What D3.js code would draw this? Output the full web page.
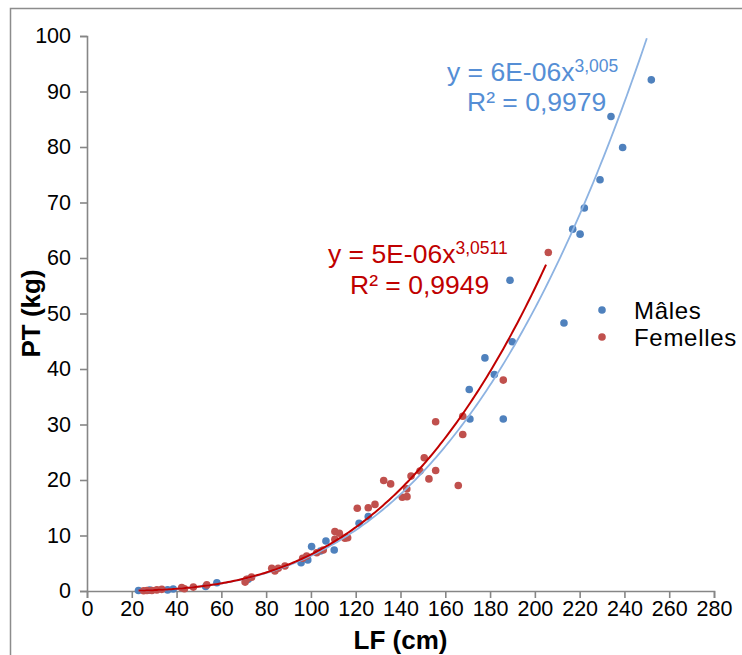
<!DOCTYPE html>
<html><head><meta charset="utf-8">
<script src="https://cdn.jsdelivr.net/npm/d3@7/dist/d3.min.js"></script>
<style>
html,body{margin:0;padding:0;background:#fff;}
svg{display:block;font-family:"Liberation Sans",Arial,sans-serif;}
</style></head>
<body>
<svg id="chart" width="742" height="655"></svg>
<script>
// ---- data (LF cm, PT kg) ----
const malesLF = [23,28,36,38.5,53,58,72,95.6,98.6,100.3,104.3,106.7,110.4,121.5,125.6,170.7,171,177.7,181.9,185.9,188.9,189.9,213,216.9,220.2,222.1,229.1,234,239.2,252];
const malesPT = [0.1,0.15,0.2,0.35,0.8,1.5,2.1,5.1,5.6,8.0,7.2,9.0,7.4,12.2,13.4,36.3,31.0,42.0,39.0,31.0,56.0,44.9,48.3,65.2,64.3,69.0,74.1,85.5,79.9,92.1];
const femLF = [25.3,26.8,29,31.2,33.4,42.3,43.5,47.5,53.5,70.6,71.3,73.5,82.5,83.9,85.4,88.4,96.3,98.1,102.6,105.5,110.7,110.7,112.7,115.2,116.4,120.7,125.6,128.6,132.5,135.6,140.8,142.9,142.8,144.7,148.7,150.6,152.7,155.7,155.7,165.8,167.8,167.8,185.9,206];
const femPT = [0.05,0.1,0.1,0.2,0.3,0.6,0.4,0.7,1.1,1.6,2.1,2.5,4.1,3.6,4.1,4.5,5.9,6.3,6.9,7.4,9.3,10.7,10.4,9.5,9.6,14.9,15.0,15.6,19.9,19.3,16.9,17.0,18.4,20.7,21.6,24.0,20.2,21.7,30.5,19.0,28.2,31.5,38.0,61.0];
const seriesNames = ["Mâles","Femelles"];
// power trendlines y = a * x^b  (fitted), range [xmin, xmax]
const trendA = [6.2e-6, 5.2e-6];
const trendB = [3.005, 3.0511];
const trendRange = [[23,250],[23,205]];
const eqMain = ["y = 6E-06x","y = 5E-06x"];
const eqExp = ["3,005","3,0511"];
const eqR2 = ["R² = 0,9979","R² = 0,9949"];
const xTicks = d3.range(0, 281, 20);
const yTicks = d3.range(0, 101, 10);

const colM = "#4f81bd", colF = "#c0504d";
const lineM = "#8db3e2", lineF = "#c00000";
const txtM = "#558ed5", txtF = "#c00000";

const svg = d3.select("#chart");
// outer chart border
svg.append("rect").attr("x",10.5).attr("y",8.5).attr("width",800).attr("height",800)
  .attr("fill","none").attr("stroke","#8c8c8c").attr("stroke-width",1.5);

const x = d3.scaleLinear().domain([0,280]).range([87,714]);
const y = d3.scaleLinear().domain([0,100]).range([591,36]);

// axes
const xAxis = svg.append("g").attr("transform","translate(0,591)")
  .call(d3.axisBottom(x).tickValues(xTicks).tickSize(7).tickPadding(3));
const yAxis = svg.append("g").attr("transform","translate(87,0)")
  .call(d3.axisLeft(y).tickValues(yTicks).tickSize(7).tickPadding(9));
[xAxis,yAxis].forEach(g=>{
  g.select(".domain").attr("stroke","#868686").attr("stroke-width",1.6);
  g.selectAll(".tick line").attr("stroke","#868686").attr("stroke-width",1.6);
  g.selectAll(".tick text").attr("fill","#000").style("font-size","21.5px")
    .style("font-family","'Liberation Sans',Arial,sans-serif");
});
xAxis.selectAll(".tick text").attr("dy","0.71em");

// axis titles
svg.append("text").attr("x",400.5).attr("y",649).attr("text-anchor","middle")
  .style("font-size","26px").style("font-weight","bold").text("LF (cm)");
svg.append("text").attr("transform","translate(40,313.5) rotate(-90)").attr("text-anchor","middle")
  .style("font-size","26px").style("font-weight","bold").text("PT (kg)");

// points
const males = malesLF.map((v,i)=>({x:v,y:malesPT[i]}));
const fems = femLF.map((v,i)=>({x:v,y:femPT[i]}));
svg.append("g").selectAll("circle").data(males).join("circle")
  .attr("cx",d=>x(d.x)).attr("cy",d=>y(d.y)).attr("r",3.8).attr("fill",colM);
svg.append("g").selectAll("circle").data(fems).join("circle")
  .attr("cx",d=>x(d.x)).attr("cy",d=>y(d.y)).attr("r",3.8).attr("fill",colF);

// trendlines
const line = d3.line().x(d=>x(d[0])).y(d=>y(d[1]));
[0,1].forEach(k=>{
  const [x0,x1] = trendRange[k];
  const pts = d3.range(0,201).map(i=>{const xv = x0+(x1-x0)*i/200; return [xv, trendA[k]*Math.pow(xv,trendB[k])];});
  svg.append("path").attr("d",line(pts)).attr("fill","none")
    .attr("stroke", k===0?lineM:lineF).attr("stroke-width", k===0?1.8:2);
});

// equations
const eqPos = [[447,81,467,111],[328,263,350,294]];
[0,1].forEach(k=>{
  const c = k===0?txtM:txtF;
  const t = svg.append("text").attr("x",eqPos[k][0]).attr("y",eqPos[k][1]).attr("fill",c).style("font-size","26.5px");
  t.append("tspan").text(eqMain[k]);
  t.append("tspan").attr("dy",-9).style("font-size","17.5px").text(eqExp[k]);
  svg.append("text").attr("x",eqPos[k][2]).attr("y",eqPos[k][3]).attr("fill",c).style("font-size","26.5px").text(eqR2[k]);
});

// legend
const leg = svg.append("g");
seriesNames.forEach((n,i)=>{
  leg.append("circle").attr("cx",602).attr("cy",310+i*27).attr("r",3.8).attr("fill",i===0?colM:colF);
  leg.append("text").attr("x",634).attr("y",318.5+i*27).style("font-size","24px")
    .style("letter-spacing","0.7px").attr("fill","#000").text(n);
});
</script>
</body></html>
